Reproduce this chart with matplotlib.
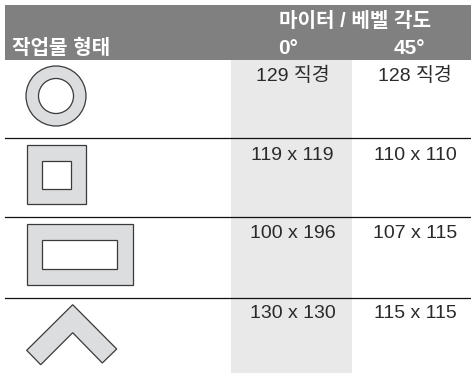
import matplotlib
matplotlib.use("Agg")
import matplotlib.pyplot as plt
from matplotlib.patches import Circle, Polygon, Rectangle

plt.rcParams['font.family'] = ['Liberation Sans', 'Noto Sans CJK KR']

W, H = 471, 373

header_top = "마이터 / 베벨 각도"
header_left = "작업물 형태"
angles = ["0°", "45°"]
col_0 = ["129 직경", "119 x 119", "100 x 196", "130 x 130"]
col_45 = ["128 직경", "110 x 110", "107 x 115", "115 x 115"]

GREY = "#808080"
BAND = "#e9e9e9"
SHAPE = "#dcddde"
EDGE = "#3a3a3a"

fig = plt.figure(figsize=(W / 100, H / 100), dpi=100, facecolor="white")
ax = fig.add_axes([0, 0, 1, 1])
ax.set_xlim(0, W)
ax.set_ylim(H, 0)
ax.axis("off")

# header + shaded column
ax.add_patch(Rectangle((231, 59), 121, 314, fc=BAND, ec="none", zorder=1))
ax.add_patch(Rectangle((5, 5), 466, 55, fc=GREY, ec="none", zorder=2))

for y in (138, 217, 298):
    ax.plot([5, 471], [y, y], color="#111111", lw=0.9, zorder=3)

ax.text(355, 21.5, header_top, color="white", fontsize=14.5, fontweight="bold",
        ha="center", va="center", zorder=4)
ax.text(12, 48, header_left, color="white", fontsize=14.5, fontweight="bold",
        ha="left", va="center", zorder=4)
ax.text(278, 48, angles[0], color="white", fontsize=15, fontweight="bold",
        ha="left", va="center", zorder=4)
ax.text(394, 48, angles[1], color="white", fontsize=15, fontweight="bold",
        ha="left", va="center", zorder=4)

row_y = [76, 155, 234, 314]
for y, a, b in zip(row_y, col_0, col_45):
    ax.text(292.5, y, a, color="#2a2a2a", fontsize=14, ha="center", va="center", zorder=4)
    ax.text(415, y, b, color="#2a2a2a", fontsize=14, ha="center", va="center", zorder=4)

# workpiece shapes
kw = dict(ec=EDGE, lw=0.9, zorder=3)
ax.add_patch(Circle((56, 96), 30, fc=SHAPE, **kw))
ax.add_patch(Circle((56, 96), 17.5, fc="white", **kw))
ax.add_patch(Rectangle((26.5, 144.7), 59.5, 59.5, fc=SHAPE, **kw))
ax.add_patch(Rectangle((42, 160.5), 28.5, 28.5, fc="white", **kw))
ax.add_patch(Rectangle((26.5, 224), 106, 60.7, fc=SHAPE, **kw))
ax.add_patch(Rectangle((42.3, 239.7), 74.4, 28.8, fc="white", **kw))
ax.add_patch(Polygon([(72.7, 304.7), (116.7, 349), (102.3, 363), (72.7, 332.7),
                      (40.7, 364.7), (26.7, 350.3)], closed=True, fc=SHAPE, **kw))

fig.savefig("out.png", dpi=100, facecolor="white")
